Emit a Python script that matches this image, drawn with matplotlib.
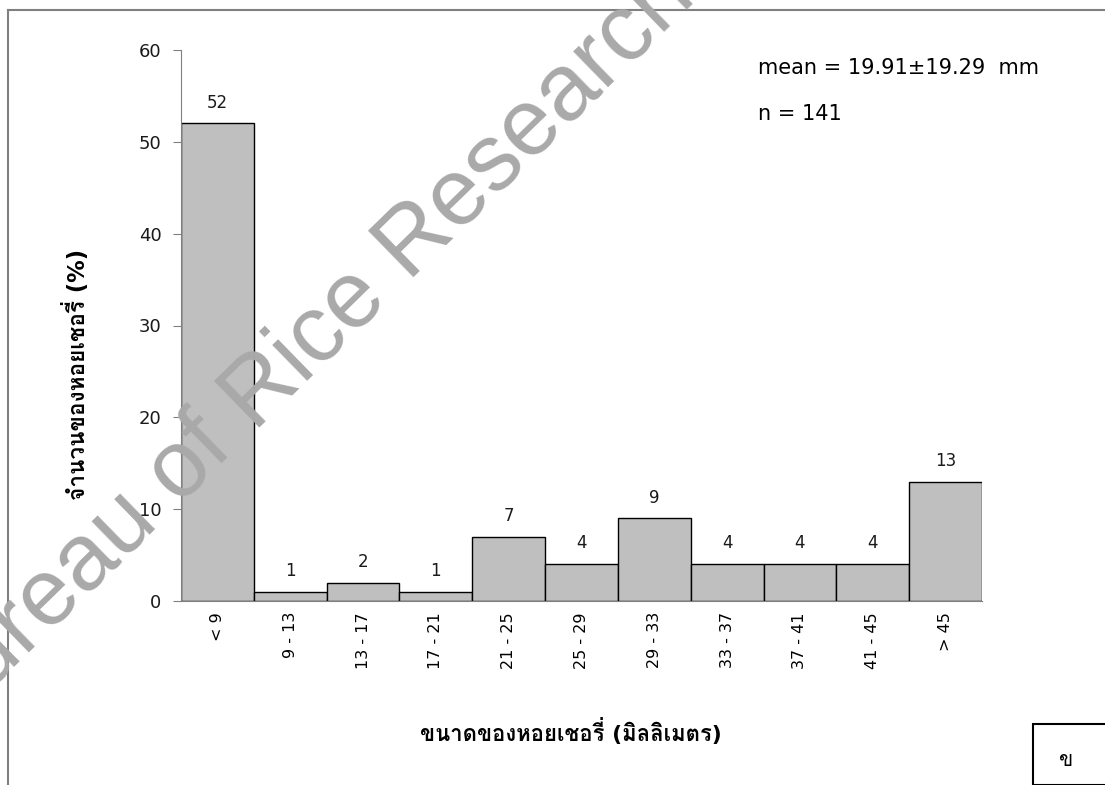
import matplotlib
matplotlib.use("Agg")
import matplotlib.pyplot as plt
from matplotlib import font_manager
from matplotlib.ft2font import FT2Font
from matplotlib.patches import Rectangle
from matplotlib.lines import Line2D

# ข้อมูล
size_classes = ["< 9", "9 - 13", "13 - 17", "17 - 21", "21 - 25", "25 - 29",
                "29 - 33", "33 - 37", "37 - 41", "41 - 45", "> 45"]
percent = [52, 1, 2, 1, 7, 4, 9, 4, 4, 4, 13]
y_ticks = [0, 10, 20, 30, 40, 50, 60]
stats_lines = ["mean = 19.91\u00b119.29  mm", "n = 141"]


def find_thai_font():
    """Cherche une police installée qui contient les glyphes thaïs"""
    found = []
    for f in font_manager.fontManager.ttflist:
        try:
            cmap = FT2Font(f.fname).get_charmap()
        except Exception:
            continue
        if 0x0E02 in cmap and 0x0E21 in cmap:
            found.append(f.name)
    return found


thai_fonts = find_thai_font()
families = ["DejaVu Sans"] + thai_fonts[:1]
plt.rcParams["font.family"] = families

fig = plt.figure(figsize=(11.05, 7.85), dpi=100)
W, H = 1105, 785


def fx(px):
    return px / W


def fy(py):
    return 1 - py / H


def fit_length(txt, target_px, vertical=False):
    """Ajuste la taille de police pour que le texte fasse target_px de long"""
    r = fig.canvas.get_renderer()
    bb = txt.get_window_extent(renderer=r)
    cur = bb.height if vertical else bb.width
    txt.set_fontsize(txt.get_fontsize() * target_px / cur)


ax = fig.add_axes([fx(181), fy(601), fx(982) - fx(181), fy(50) - fy(601)])

x = range(len(percent))
ax.bar(x, percent, width=1.0, color="#BFBFBF", edgecolor="black", linewidth=1.0)
for xi, v in zip(x, percent):
    ax.annotate(str(v), (xi, v), xytext=(0, 8.5), textcoords="offset points",
                ha="center", va="bottom", fontsize=12, color="#1a1a1a")

ax.set_xlim(-0.5, len(percent) - 0.5)
ax.set_ylim(0, 60)
ax.set_yticks(y_ticks)
ax.set_xticks(list(x))
ax.set_xticklabels(size_classes, rotation=90, fontsize=11.5, va="top")
ax.tick_params(axis="x", length=0, pad=8)
ax.tick_params(axis="y", length=6, color="#808080", labelsize=13, pad=8, labelcolor="#1a1a1a")
for s in ["top", "right"]:
    ax.spines[s].set_visible(False)
ax.spines["left"].set_color("#808080")
ax.spines["bottom"].set_color("#808080")

ylab = fig.text(fx(76), fy(375), "จำนวนของหอยเชอรี่ (%)", rotation=90, ha="center", va="center",
                fontsize=14, fontweight="bold")
xlab = fig.text(fx(571), fy(732), "ขนาดของหอยเชอรี่ (มิลลิเมตร)", ha="center", va="center",
                fontsize=15.5, fontweight="bold")
fit_length(ylab, 251, vertical=True)
fit_length(xlab, 303)

fig.text(fx(758), fy(68), stats_lines[0], ha="left", va="center", fontsize=15)
fig.text(fx(758), fy(114), stats_lines[1], ha="left", va="center", fontsize=15)

# cadre extérieur (coupé à droite et en bas)
fig.add_artist(Line2D([fx(8), 1.0], [fy(10), fy(10)], color="#808080", linewidth=1.5))
fig.add_artist(Line2D([fx(8), fx(8)], [fy(10), 0.0], color="#808080", linewidth=1.5))

# petite boîte "ข"
fig.add_artist(Rectangle((fx(1033), 0.0), 1.0 - fx(1033) + 0.01, fy(724), transform=fig.transFigure,
                         fill=False, edgecolor="black", linewidth=1.5, clip_on=False))
fig.text(fx(1066), fy(760), "ข", ha="center", va="center", fontsize=15)

# filigrane
fig.text(fx(320), fy(368), "Bureau of Rice Research", rotation=44.3, ha="center", va="baseline",
         rotation_mode="anchor", fontsize=68, color="#A9A9A9", family="Liberation Sans", zorder=10)

fig.savefig("out.png", dpi=100)
